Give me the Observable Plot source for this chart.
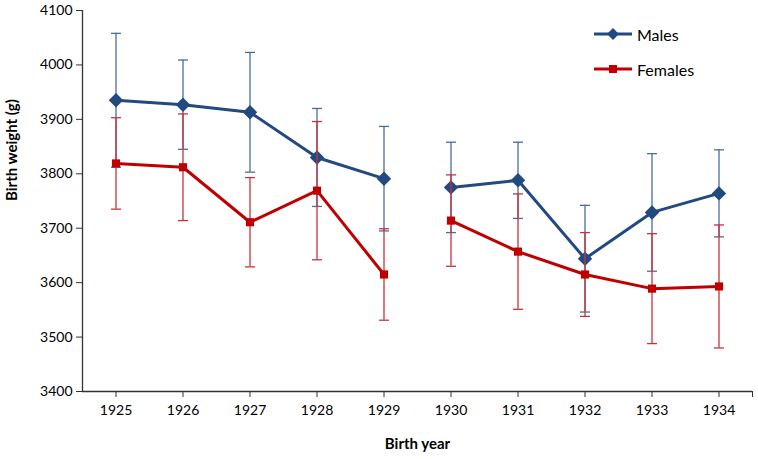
<!DOCTYPE html>
<html>
<head>
<meta charset="utf-8">
<script src="https://cdn.jsdelivr.net/npm/d3@7"></script>
<script src="https://cdn.jsdelivr.net/npm/@observablehq/plot@0.6"></script>
<style>
  html, body { margin: 0; padding: 0; background: #fff; }
  #wrap { position: relative; width: 758px; height: 459px; font-family: Lato, "Liberation Sans", sans-serif; }
  #legend { position: absolute; left: 594px; top: 24px; font-size: 16px; color: #000; }
  #legend .item { display: flex; align-items: center; height: 20px; margin-bottom: 15px; }
  #legend svg { margin-right: 5px; }
</style>
</head>
<body>
<div id="wrap"></div>
<script>
const years = [1925, 1926, 1927, 1928, 1929, 1930, 1931, 1932, 1933, 1934];
const males = [3935, 3927, 3913, 3830, 3791, 3775, 3788, 3644, 3729, 3764];
const malesErr = [123, 82, 110, 90, 96, 83, 70, 98, 108, 80];
const females = [3819, 3812, 3711, 3769, 3615, 3714, 3657, 3615, 3589, 3593];
const femalesErr = [84, 98, 82, 127, 84, 84, 106, 77, 101, 113];
const yTicks = [3400, 3500, 3600, 3700, 3800, 3900, 4000, 4100];
const breakAfter = 1929;

const series = [
  {name: "Males", values: males, err: malesErr, color: "#234A80", errColor: "#4B6D9C", symbol: "diamond2", r: 6.5},
  {name: "Females", values: females, err: femalesErr, color: "#C00000", errColor: "#C8333A", symbol: "square", r: 4.6}
];

const rows = series.flatMap(s => years.map((yr, i) => ({
  series: s.name,
  year: yr,
  value: s.values[i],
  lo: s.values[i] - s.err[i],
  hi: s.values[i] + s.err[i],
  seg: s.name + (yr <= breakAfter ? "-a" : "-b")
})));

const marks = [];
for (const s of series) {
  const d = rows.filter(r => r.series === s.name);
  marks.push(
    Plot.ruleX(d, {x: "year", y1: "lo", y2: "hi", stroke: s.errColor, strokeWidth: 1.3}),
    Plot.link(d, {x1: r => r.year - 0.075, x2: r => r.year + 0.075, y1: "hi", y2: "hi", stroke: s.errColor, strokeWidth: 1.3}),
    Plot.link(d, {x1: r => r.year - 0.075, x2: r => r.year + 0.075, y1: "lo", y2: "lo", stroke: s.errColor, strokeWidth: 1.3}),
    Plot.line(d, {x: "year", y: "value", z: "seg", stroke: s.color, strokeWidth: 3}),
    Plot.dot(d, {x: "year", y: "value", symbol: s.symbol, r: s.r, fill: s.color, stroke: "none"})
  );
}

const chart = Plot.plot({
  width: 758,
  height: 459,
  marginLeft: 82,
  marginRight: 6,
  marginTop: 10,
  marginBottom: 68,
  style: {fontFamily: "Lato, 'Liberation Sans', sans-serif", fontSize: "14px", color: "#000", background: "#fff"},
  x: {domain: [1924.5, 1934.5]},
  y: {domain: [3400, 4100]},
  marks: [
    Plot.axisY({ticks: yTicks, tickSize: 6, tickPadding: 4, tickFormat: d => String(d), fontSize: 14, label: null, stroke: "#333"}),
    Plot.axisX({ticks: [...years, 1934.5], tickSize: 6, tickPadding: 8, tickFormat: d => Number.isInteger(d) ? String(d) : "", fontSize: 14, label: null, stroke: "#333"}),
    Plot.ruleX([1924.5], {stroke: "#333", strokeWidth: 1.3}),
    Plot.ruleY([3400], {stroke: "#333", strokeWidth: 1.3}),
    ...marks,
    Plot.text(["Birth year"], {frameAnchor: "bottom", dy: 57, text: d => d, fontWeight: "bold", fontSize: 15, fill: "#000"}),
    Plot.text(["Birth weight (g)"], {frameAnchor: "left", dx: -70, rotate: -90, text: d => d, fontWeight: "bold", fontSize: 15, fill: "#000"})
  ]
});

const wrap = document.getElementById("wrap");
wrap.appendChild(chart);

const legend = document.createElement("div");
legend.id = "legend";
for (const s of series) {
  const item = document.createElement("div");
  item.className = "item";
  const ns = "http://www.w3.org/2000/svg";
  const svg = document.createElementNS(ns, "svg");
  svg.setAttribute("width", 38);
  svg.setAttribute("height", 16);
  const line = document.createElementNS(ns, "line");
  line.setAttribute("x1", 0); line.setAttribute("x2", 38);
  line.setAttribute("y1", 8); line.setAttribute("y2", 8);
  line.setAttribute("stroke", s.color); line.setAttribute("stroke-width", 3);
  svg.appendChild(line);
  const sym = document.createElementNS(ns, "path");
  const symObj = s.symbol === "diamond2" ? d3.symbolDiamond2 : d3.symbolSquare;
  const size = s.symbol === "diamond2" ? 90 : 64;
  sym.setAttribute("d", d3.symbol(symObj, size)());
  sym.setAttribute("transform", "translate(19,8)");
  sym.setAttribute("fill", s.color);
  svg.appendChild(sym);
  item.appendChild(svg);
  const label = document.createElement("span");
  label.textContent = s.name;
  item.appendChild(label);
  legend.appendChild(item);
}
wrap.appendChild(legend);
</script>
</body>
</html>
